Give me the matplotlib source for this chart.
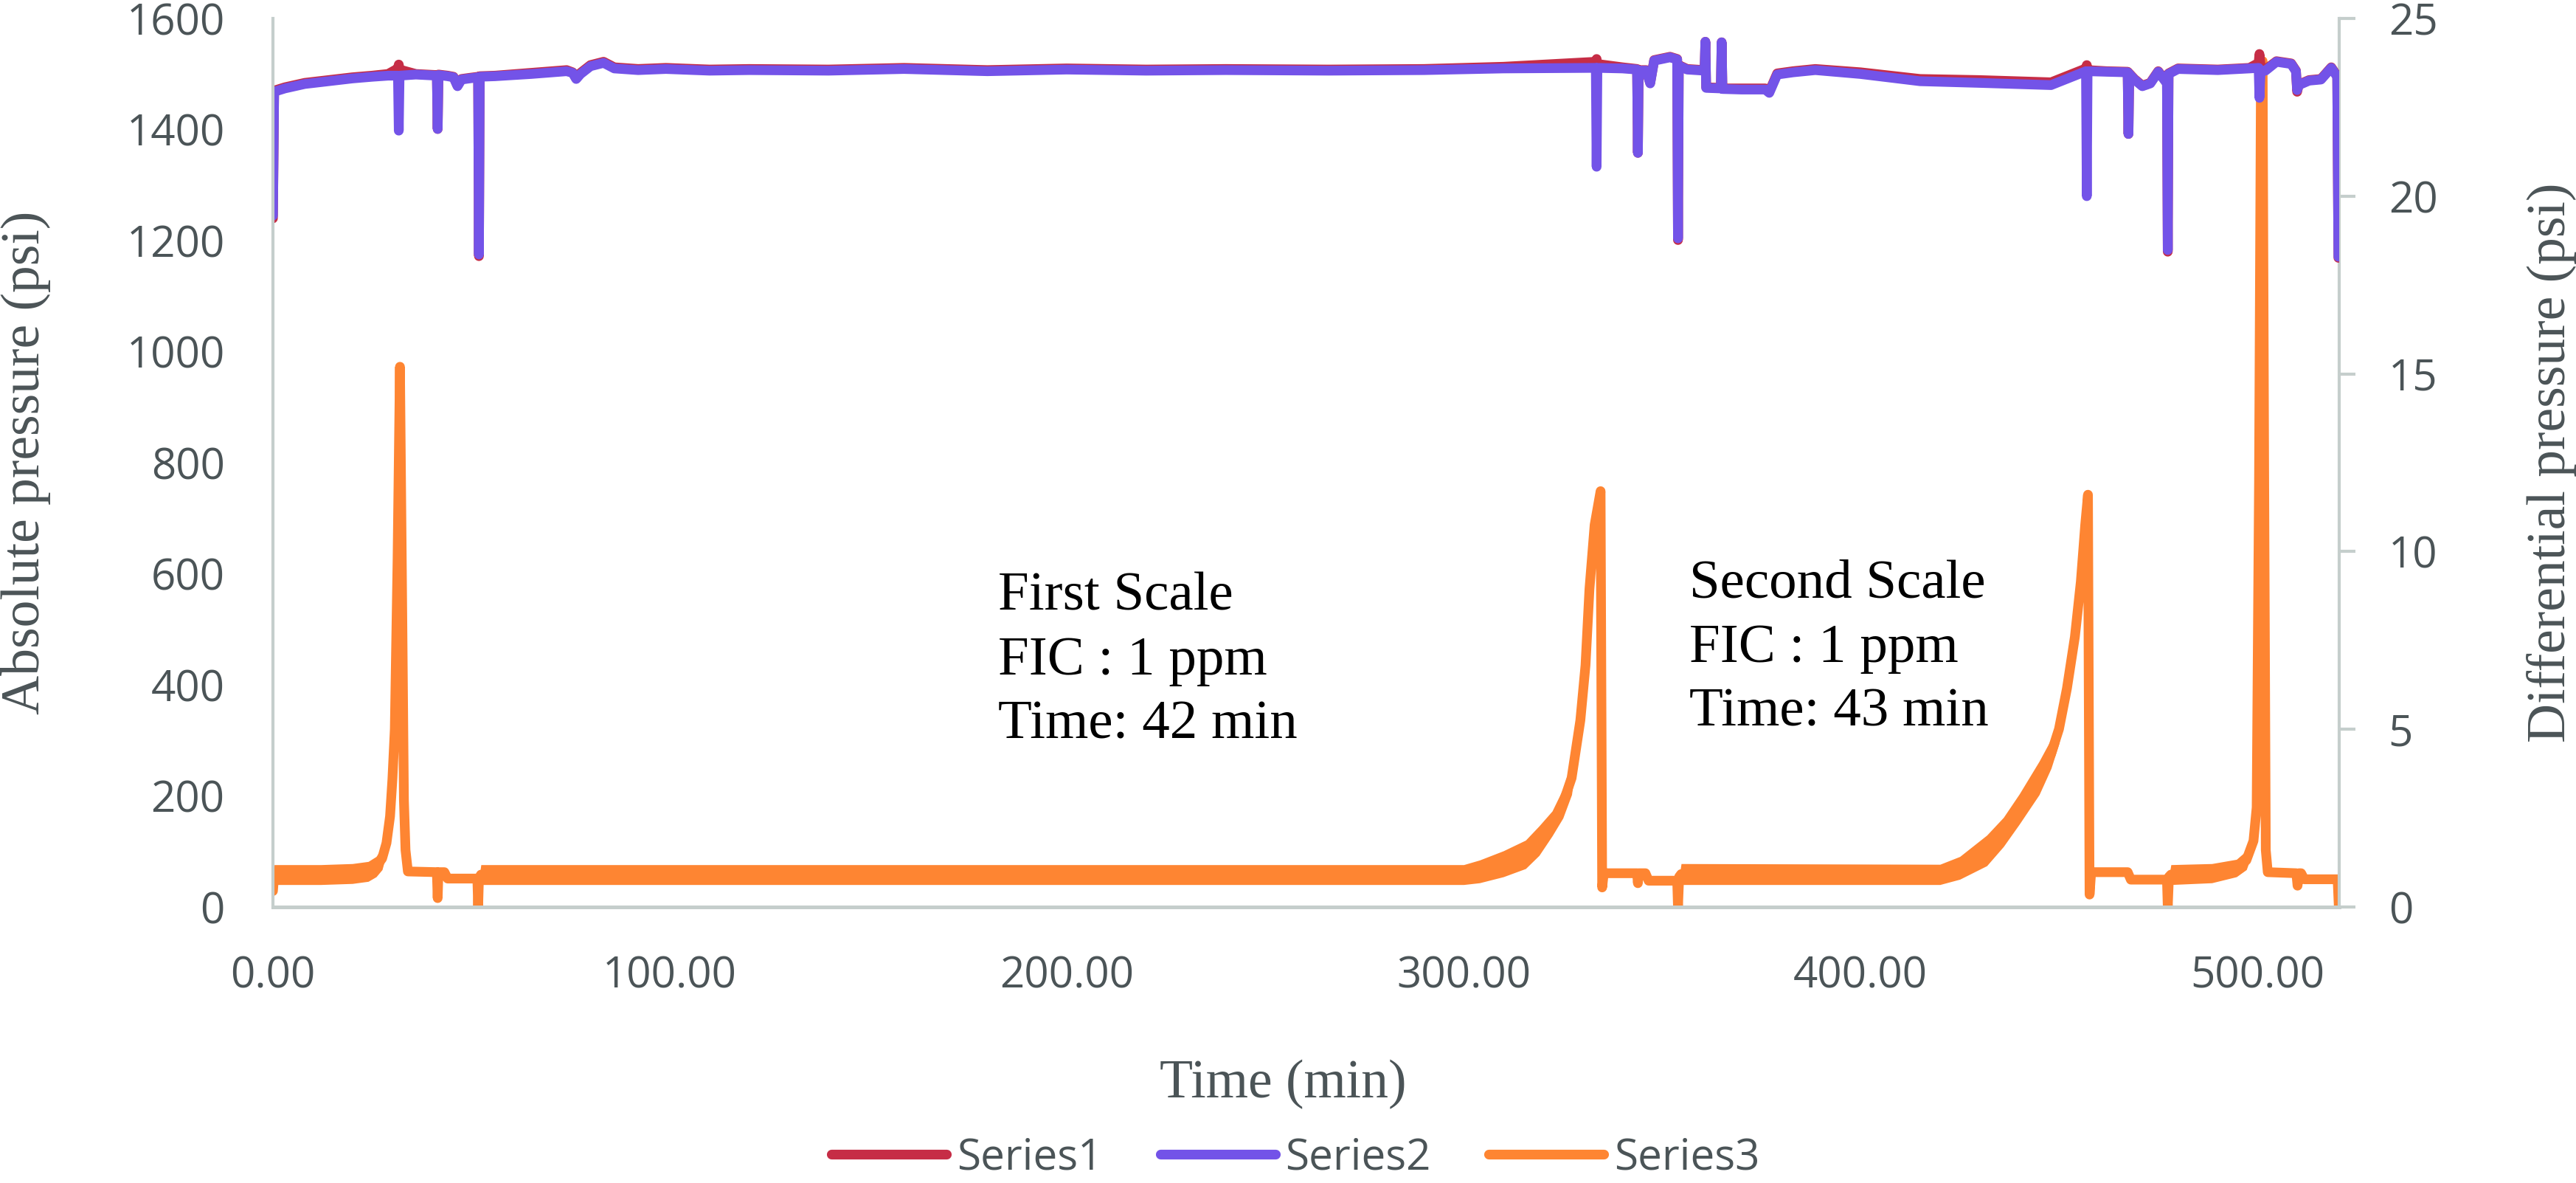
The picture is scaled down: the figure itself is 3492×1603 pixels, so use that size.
import numpy as np
import matplotlib
matplotlib.use("Agg")
import matplotlib.pyplot as plt

# time (min) for the absolute pressure traces
s2_t = [0, 0.3, 3, 8, 14, 20, 25, 29, 31.5, 31.7, 31.9, 36, 41.3, 41.5, 41.7, 44, 45.5, 46.5,
        47.5, 49.5, 51.7, 51.9, 52.1, 56, 65, 74, 75.5, 76.4, 77.5, 80, 83.3, 86, 92, 99, 110,
        120, 140, 159, 180, 200, 220, 240, 266, 290, 310, 333.3, 333.5, 333.7, 340, 343.7,
        343.9, 344.1, 346, 347, 348, 352, 353.8, 354, 354.2, 356.3, 360.7, 360.9, 361.1, 364.8,
        365, 365.2, 370, 376, 377, 379, 383, 388.6, 400, 415, 430, 448, 456.8, 457, 457.2, 462,
        467.3, 467.5, 467.7, 469, 471, 473, 475, 477.2, 477.4, 477.6, 480, 490, 498, 500.3,
        500.5, 500.8, 502, 504.8, 508.5, 509.7, 510, 510.4, 513, 516, 518.6, 520.1, 520.4]

# Series2 absolute pressure (psi)
s2_p = [1245, 1468, 1474, 1482, 1487, 1492, 1495, 1497, 1497, 1398, 1497, 1499, 1497, 1401, 1498,
        1496, 1494, 1478, 1490, 1492, 1494, 1175, 1495, 1496, 1500, 1505, 1502, 1491, 1500, 1514,
        1520, 1510, 1507, 1509, 1506, 1507, 1506, 1509, 1505, 1508, 1506, 1507, 1506, 1507, 1510,
        1511, 1333, 1511, 1510, 1508, 1358, 1506, 1506, 1483, 1524, 1530, 1526, 1204, 1515, 1508,
        1506, 1558, 1475, 1474, 1557, 1473, 1472, 1472, 1466, 1499, 1503, 1507, 1500, 1487, 1484,
        1480, 1505, 1280, 1505, 1504, 1503, 1392, 1500, 1490, 1478, 1483, 1504, 1483, 1183, 1500,
        1509, 1507, 1510, 1511, 1457, 1505, 1506, 1522, 1518, 1505, 1471, 1480, 1488, 1490, 1511,
        1495, 1171]

# Series1 absolute pressure (psi), same time stamps
s1_p = [1240, 1470, 1476, 1484, 1489, 1494, 1497, 1500, 1510, 1517, 1508, 1500, 1498, 1401, 1499,
        1497, 1495, 1479, 1491, 1493, 1495, 1172, 1496, 1497, 1502, 1507, 1503, 1492, 1502, 1516,
        1522, 1512, 1509, 1511, 1508, 1509, 1508, 1511, 1507, 1510, 1508, 1509, 1508, 1509, 1513,
        1522, 1527, 1518, 1512, 1509, 1358, 1507, 1507, 1484, 1525, 1531, 1527, 1201, 1516, 1509,
        1507, 1558, 1476, 1475, 1557, 1474, 1474, 1474, 1468, 1501, 1505, 1509, 1503, 1491, 1489,
        1485, 1510, 1516, 1507, 1505, 1504, 1392, 1501, 1491, 1479, 1484, 1505, 1484, 1180, 1501,
        1510, 1508, 1511, 1520, 1536, 1515, 1508, 1523, 1519, 1506, 1468, 1481, 1489, 1491, 1512,
        1496, 1169]

# Series3 differential pressure (psi): time, lower and upper edge of the noisy trace
s3_t = [0.0, 0.3, 12, 20, 24, 26, 27.5, 28.6, 29.5, 30.1, 30.7, 31.4, 32.0, 32.6, 33.0, 33.4, 34.0,
        41.3, 41.5, 41.7, 43.2, 44.0, 51.5, 51.7, 51.9, 52.4, 300, 304, 310, 315.6, 319, 322.3,
        325, 327.2, 329.4, 330.7, 331.7, 333.0, 334.5, 334.9, 335.3, 343.7, 343.9, 344.1, 345.8,
        346.6, 353.8, 354.0, 354.3, 354.8, 420, 425, 431.8, 436, 440, 445, 448, 450, 452, 454,
        455.5, 456.6, 457.3, 457.7, 458.1, 467.3, 468.1, 477.2, 477.4, 477.7, 478.2, 488.5,
        494.7, 497.2, 499.0, 499.8, 500.4, 500.9, 501.3, 501.7, 502.1, 502.6, 509.8, 510.1,
        510.4, 511.0, 511.8, 520.2, 520.5]
s3_lo = [0.45, 0.63, 0.63, 0.66, 0.72, 0.85, 1.05, 1.5, 2.3, 3.4, 5.0, 9.8, 15.2, 8.0, 3.0, 1.6, 1.0,
         0.98, 0.25, 0.98, 0.98, 0.8, 0.8, 0.0, 0.8, 0.63, 0.63, 0.68, 0.85, 1.08, 1.45, 2.0,
         2.5, 3.16, 4.9, 6.5, 8.7, 10.6, 11.7, 0.55, 0.95, 0.95, 0.67, 0.95, 0.95,
         0.74, 0.74, 0.0, 0.85, 0.63, 0.63, 0.78, 1.16, 1.7, 2.33, 3.16, 3.9, 4.6, 5.8, 7.3,
         8.9, 10.6, 11.6, 0.35, 0.98, 0.98, 0.77, 0.77, 0.0, 0.85, 0.63, 0.68,
         0.85, 1.05, 1.6, 2.8, 12.0, 23.8, 23.8, 12.0, 1.6, 0.98, 0.95, 0.6,
         0.95, 0.95, 0.78, 0.78, 0.0]
s3_hi = [0.45, 1.19, 1.19, 1.22, 1.28, 1.42, 1.68, 2.1, 2.8, 3.8, 5.0, 9.8, 15.2, 8.0, 3.0, 1.6, 1.0,
         0.98, 0.25, 0.98, 0.98, 0.8, 0.8, 0.0, 0.8, 1.19, 1.19, 1.32, 1.58, 1.88, 2.28, 2.7,
         3.32, 4.1, 5.6, 7.1, 9.2, 10.9, 11.7, 0.55, 0.95, 0.95, 0.67, 0.95, 0.95,
         0.74, 0.74, 0.0, 0.85, 1.22, 1.2, 1.42, 2.02, 2.52, 3.18, 4.1, 4.72, 5.42, 6.5, 7.9,
         9.4, 10.9, 11.6, 0.35, 0.98, 0.98, 0.77, 0.77, 0.0, 0.85, 1.19, 1.22,
         1.34, 1.58, 2.12, 2.8, 12.0, 23.8, 23.8, 12.0, 1.6, 0.98, 0.95, 0.6,
         0.95, 0.95, 0.78, 0.78, 0.0]

x_ticks = [0, 100, 200, 300, 400, 500]
left_ticks = [0, 200, 400, 600, 800, 1000, 1200, 1400, 1600]
right_ticks = [0, 5, 10, 15, 20, 25]

RED = "#C62D46"
PURPLE = "#7353E8"
ORANGE = "#FE8532"
GRID = "#C5CECC"
TXT = "#4B5457"
SANS = "Open Sans"
SERIF = "Liberation Serif"

fig = plt.figure(figsize=(34.92, 16.03), dpi=100)
ax = fig.add_axes([0.10596, 0.23331, 0.80212, 0.75109])
ax2 = ax.twinx()
# absolute pressure traces drawn on top of the differential one
ax.set_zorder(ax2.get_zorder() + 1)
ax.patch.set_visible(False)

line_kw = dict(lw=9.5, solid_capstyle="round", solid_joinstyle="round")

lo = np.array(s3_lo)
hi = np.array(s3_hi)
ax2.fill_between(s3_t, lo, hi, color=ORANGE, lw=0)
l3, = ax2.plot(s3_t, (lo + hi) / 2, color=ORANGE, label="Series3", **line_kw)

l1, = ax.plot(s2_t, s1_p, color=RED, label="Series1", **line_kw)
l2, = ax.plot(s2_t, s2_p, color=PURPLE, label="Series2", **line_kw)

ax.set_xlim(0, 520.6)
ax.set_ylim(0, 1600)
ax2.set_ylim(0, 25)

ax.set_xticks(x_ticks)
ax.set_xticklabels([f"{v:.2f}" for v in x_ticks])
ax.set_yticks(left_ticks)
ax2.set_yticks(right_ticks)

ax.tick_params(axis="both", length=0, labelsize=42, labelcolor=TXT, pad=47)
ax2.tick_params(axis="y", length=16, width=3, color=GRID, direction="out",
                labelsize=42, labelcolor=TXT, pad=32)
for lab in ax.get_xticklabels() + ax.get_yticklabels() + ax2.get_yticklabels():
    lab.set_family(SANS)

for s in ["top", "right"]:
    ax.spines[s].set_visible(False)
ax.spines["left"].set_color(GRID)
ax.spines["left"].set_linewidth(3)
ax.spines["bottom"].set_color(GRID)
ax.spines["bottom"].set_linewidth(3.6)
for s in ["top", "left", "bottom"]:
    ax2.spines[s].set_visible(False)
ax2.spines["right"].set_color(GRID)
ax2.spines["right"].set_linewidth(3)

ax.set_ylabel("Absolute pressure (psi)", fontsize=53, family=SERIF, color=TXT)
ax.yaxis.set_label_coords(-0.1075, 0.5)
ax2.set_ylabel("Differential pressure (psi)", fontsize=53, family=SERIF, color=TXT)
ax2.yaxis.set_label_coords(1.0907, 0.5)
ax.set_xlabel("Time (min)", fontsize=53, family=SERIF, color=TXT)
ax.xaxis.set_label_coords(0.489, -0.172)

# annotations (one text per line, baselines on the left axis scale)
notes = [
    (182.7, [535, 418, 304], ["First Scale", "FIC : 1 ppm", "Time: 42 min"]),
    (356.9, [557, 441, 326], ["Second Scale", "FIC : 1 ppm", "Time: 43 min"]),
]
for x0, ys, lines in notes:
    for y0, txt in zip(ys, lines):
        ax.text(x0, y0, txt, fontsize=54, family=SERIF, color="black",
                ha="left", va="baseline")

fig.legend(handles=[l1, l2, l3], loc="center", bbox_to_anchor=(0.503, 0.021),
           ncol=3, frameon=False, handlelength=2.67, handletextpad=0.24,
           columnspacing=1.34, prop={"family": SANS, "size": 42}, labelcolor=TXT)

fig.savefig("out.png", dpi=100)
